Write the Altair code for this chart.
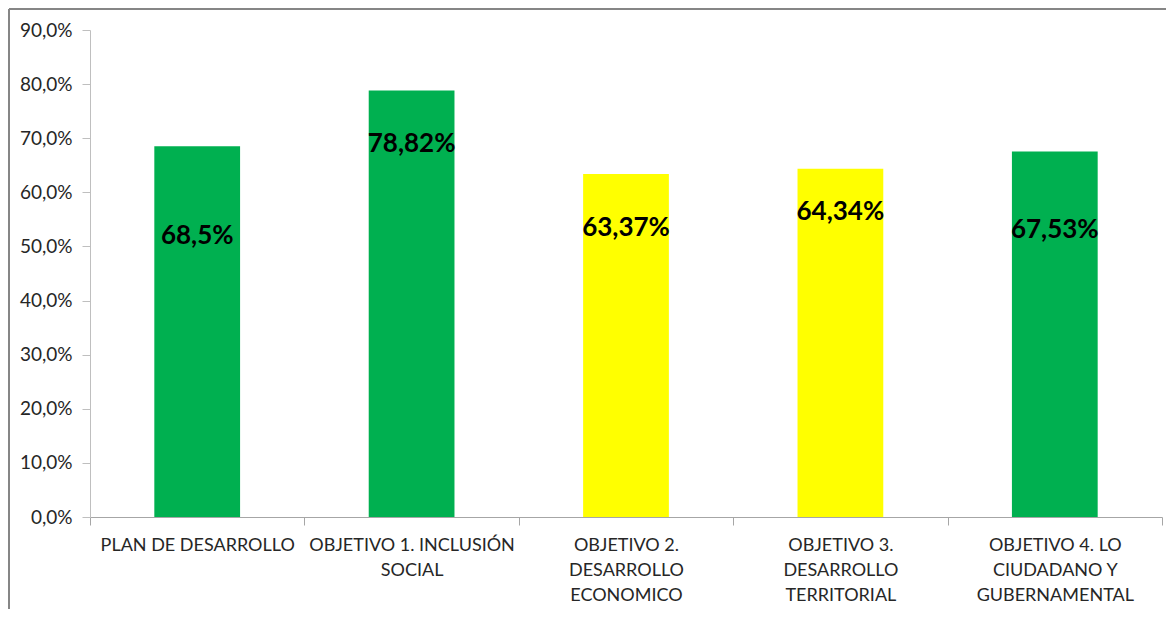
import altair as alt
import pandas as pd

# ---- data ----
category_lines = [
    ["PLAN DE DESARROLLO"],
    ["OBJETIVO 1. INCLUSIÓN", "SOCIAL"],
    ["OBJETIVO 2.", "DESARROLLO", "ECONOMICO"],
    ["OBJETIVO 3.", "DESARROLLO", "TERRITORIAL"],
    ["OBJETIVO 4. LO", "CIUDADANO Y", "GUBERNAMENTAL"],
]
categories = [" ".join(l) for l in category_lines]
values = [0.685, 0.7882, 0.6337, 0.6434, 0.6753]
value_labels = ["68,5%", "78,82%", "63,37%", "64,34%", "67,53%"]
label_pos = [0.519, 0.689, 0.534, 0.564, 0.530]
status = ["verde", "verde", "amarillo", "amarillo", "verde"]
y_ticks = [0.0, 0.1, 0.2, 0.3, 0.4, 0.5, 0.6, 0.7, 0.8, 0.9]

df = pd.DataFrame({
    "categoria": categories,
    "valor": values,
    "etiqueta": value_labels,
    "pos": label_pos,
    "estado": status,
})

W, H = 1072, 487
FONT = "Liberation Sans Narrow, Lato"

# label expression for wrapped category names
expr = "datum.value"
for name, lines in reversed(list(zip(categories, category_lines))):
    arr = "[" + ",".join("'" + s + "'" for s in lines) + "]"
    expr = f"datum.value == '{name}' ? {arr} : ({expr})"

x_scale = alt.Scale(paddingInner=0, paddingOuter=0)

x_enc = alt.X(
    "categoria:N",
    sort=categories,
    scale=x_scale,
    axis=alt.Axis(
        title=None,
        labelAngle=0,
        labelExpr=expr,
        labelFont=FONT,
        labelFontSize=18,
        labelColor="#262626",
        labelLineHeight=25,
        labelPadding=11,
        labelBaseline="top",
        tickBand="extent",
        tickSize=8,
        tickColor="#A6A6A6",
        domainColor="#A6A6A6",
        labelLimit=300,
    ),
)

y_scale = alt.Scale(domain=[0, 0.9], nice=False)

bars = alt.Chart(df).mark_bar(width={"band": 0.4}).encode(
    x=x_enc,
    y=alt.Y(
        "valor:Q",
        scale=y_scale,
        axis=alt.Axis(
            title=None,
            values=y_ticks,
            labelExpr="replace(format(datum.value, '.1%'), '.', ',')",
            labelFont=FONT,
            labelFontSize=19,
            labelColor="#262626",
            labelPadding=10,
            tickSize=8,
            tickColor="#BFBFBF",
            domainColor="#BFBFBF",
            grid=False,
        ),
    ),
    color=alt.Color(
        "estado:N",
        scale=alt.Scale(domain=["verde", "amarillo"], range=["#00B050", "#FFFF00"]),
        legend=None,
    ),
)

texts = alt.Chart(df).mark_text(
    font="Lato", fontSize=26, fontWeight="bold", color="black", baseline="middle", align="center"
).encode(
    x=alt.X("categoria:N", sort=categories, scale=x_scale),
    y=alt.Y("pos:Q", scale=y_scale),
    text="etiqueta:N",
)

one = pd.DataFrame({"a": [0]})
frame_left = alt.Chart(one).mark_rule(color="#868686", strokeWidth=2).encode(
    x=alt.value(-81), y=alt.value(-21), y2=alt.value(H + 120)
)
frame_top = alt.Chart(one).mark_rule(color="#868686", strokeWidth=2).encode(
    x=alt.value(-81), x2=alt.value(W + 10), y=alt.value(-21)
)

chart = alt.layer(bars, texts, frame_left, frame_top).properties(
    width=W,
    height=H,
    autosize=alt.AutoSizeParams(type="none"),
    padding={"left": 82, "top": 22, "right": 4, "bottom": 92},
).configure_view(stroke=None)

chart.save("out.html", embed_options={"renderer": "svg", "actions": False})
